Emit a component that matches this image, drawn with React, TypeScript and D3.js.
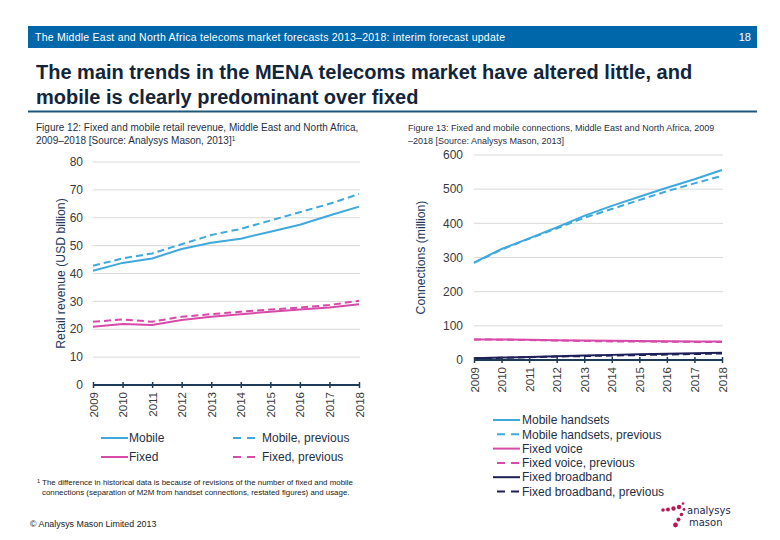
import { useEffect, useRef } from 'react';
import * as d3 from 'd3';

const years = ['2009', '2010', '2011', '2012', '2013', '2014', '2015', '2016', '2017', '2018'];

// Figure 12: retail revenue, USD billion
const mobileRevenue = [41, 43.8, 45.4, 48.8, 51, 52.5, 55, 57.5, 60.8, 64];
const mobileRevenuePrev = [42.8, 45.4, 47.2, 50.5, 53.8, 56, 59, 62, 65, 68.5];
const fixedRevenue = [20.9, 21.9, 21.5, 23.3, 24.5, 25.4, 26.3, 27.1, 27.8, 29];
const fixedRevenuePrev = [22.7, 23.5, 22.7, 24.5, 25.4, 26.3, 27.1, 27.8, 28.7, 30.2];
const revenueTicks = [0, 10, 20, 30, 40, 50, 60, 70, 80];

// Figure 13: connections, million
const mobileHandsets = [285, 325, 356, 388, 422, 451, 478, 504, 529, 556];
const mobileHandsetsPrev = [284, 323, 355, 385, 416, 442, 468, 494, 517, 539];
const fixedVoice = [60, 60, 59, 58, 57, 56, 55.5, 55, 54.5, 54];
const fixedVoicePrev = [60, 59.5, 58.5, 57, 55.5, 54.5, 54, 53.5, 53, 52.5];
const fixedBroadband = [5, 7, 9, 11, 13, 15, 16.5, 18, 20, 21.5];
const fixedBroadbandPrev = [5, 6.5, 8, 10, 11.5, 13, 14.5, 16, 17.5, 19];
const connectionTicks = [0, 100, 200, 300, 400, 500, 600];

const BLUE = '#3fa9dd';
const PINK = '#d84aa9';
const NAVY = '#1e1e58';
const TEXT = '#1f2f45';
const FONT = '"Liberation Sans", Arial, sans-serif';

export default function App() {
  const svgRef = useRef<SVGSVGElement>(null);

  useEffect(() => {
    if (!svgRef.current) return;
    const svg = d3.select(svgRef.current);
    svg.selectAll('*').remove();
    svg.attr('font-family', FONT);

    // header bar
    svg.append('rect').attr('x', 28).attr('y', 26).attr('width', 729).attr('height', 22).attr('fill', '#0067ab');
    svg.append('text').attr('x', 35).attr('y', 41).attr('fill', '#fff').attr('font-size', 10.5)
      .attr('textLength', 470).attr('lengthAdjust', 'spacing')
      .text('The Middle East and North Africa telecoms market forecasts 2013–2018: interim forecast update');
    svg.append('text').attr('x', 751).attr('y', 41).attr('fill', '#fff').attr('font-size', 11)
      .attr('text-anchor', 'end').text('18');

    // title
    const title = svg.append('text').attr('fill', '#13253a').attr('font-size', 20).attr('font-weight', 'bold');
    title.append('tspan').attr('x', 36).attr('y', 79)
      .text('The main trends in the MENA telecoms market have altered little, and');
    title.append('tspan').attr('x', 36).attr('y', 104).text('mobile is clearly predominant over fixed');
    svg.append('line').attr('x1', 28).attr('x2', 757).attr('y1', 111.5).attr('y2', 111.5)
      .attr('stroke', '#1d5878').attr('stroke-width', 2);

    // captions
    const cap1 = svg.append('text').attr('fill', TEXT).attr('font-size', 10);
    cap1.append('tspan').attr('x', 36).attr('y', 131)
      .text('Figure 12: Fixed and mobile retail revenue, Middle East and North Africa,');
    const c1l2 = cap1.append('tspan').attr('x', 36).attr('y', 144);
    c1l2.append('tspan').text('2009–2018 [Source: Analysys Mason, 2013]');
    c1l2.append('tspan').attr('font-size', 6.5).attr('dy', -3.5).text('1');

    const cap2 = svg.append('text').attr('fill', TEXT).attr('font-size', 9);
    cap2.append('tspan').attr('x', 408).attr('y', 131)
      .text('Figure 13: Fixed and mobile connections, Middle East and North Africa, 2009');
    cap2.append('tspan').attr('x', 408).attr('y', 144).text('–2018 [Source: Analysys Mason, 2013]');

    type Series = { values: number[]; color: string; dashed: boolean };

    const drawChart = (
      x0: number, x1: number, yBottom: number, yTop: number,
      ticks: number[], series: Series[], yLabel: string, labelX: number, labelX2: number
    ) => {
      const x = d3.scalePoint<string>().domain(years).range([x0, x1]);
      const y = d3.scaleLinear().domain([0, ticks[ticks.length - 1]]).range([yBottom, yTop]);
      const g = svg.append('g');

      g.append('g').selectAll('line').data(ticks.slice(1)).join('line')
        .attr('x1', x0).attr('x2', x1 + 1)
        .attr('y1', (d) => y(d)).attr('y2', (d) => y(d))
        .attr('stroke', '#d9d9d9').attr('stroke-width', 1);

      g.append('g').selectAll('text').data(ticks).join('text')
        .attr('x', labelX).attr('y', (d) => y(d)).attr('dy', '0.35em')
        .attr('text-anchor', 'end').attr('font-size', 12).attr('fill', '#3a3a3a')
        .text((d) => d);

      const line = d3.line<number>().x((_, i) => x(years[i]) as number).y((d) => y(d));
      series.forEach((s) => {
        g.append('path').datum(s.values)
          .attr('fill', 'none').attr('stroke', s.color).attr('stroke-width', 2)
          .attr('stroke-dasharray', s.dashed ? '7,4' : null)
          .attr('d', line);
      });

      const axis = g.append('g').attr('transform', `translate(0,${yBottom})`)
        .call(d3.axisBottom(x).tickSize(0).tickPadding(0));
      axis.select('.domain').remove();
      axis.selectAll('text').remove();
      axis.append('line').attr('x1', x0).attr('x2', x1).attr('stroke', '#1d3a58').attr('stroke-width', 2);
      axis.selectAll('.tick').append('line').attr('y1', -3).attr('y2', 3)
        .attr('stroke', '#1d3a58').attr('stroke-width', 1.5);
      axis.selectAll('.tick').append('text')
        .attr('transform', 'translate(0,7) rotate(-90)')
        .attr('text-anchor', 'end').attr('dy', '0.35em')
        .attr('font-size', 11.5).attr('fill', '#3a3a3a').attr('font-family', FONT)
        .text((d) => d as string);

      g.append('text')
        .attr('transform', `translate(${labelX2},${(yBottom + yTop) / 2}) rotate(-90)`)
        .attr('text-anchor', 'middle').attr('dy', '0.35em')
        .attr('font-size', 12.2).attr('fill', '#1d3a5c').text(yLabel);
    };

    drawChart(93, 359, 385, 162, revenueTicks, [
      { values: mobileRevenuePrev, color: BLUE, dashed: true },
      { values: mobileRevenue, color: BLUE, dashed: false },
      { values: fixedRevenuePrev, color: PINK, dashed: true },
      { values: fixedRevenue, color: PINK, dashed: false },
    ], 'Retail revenue (USD billion)', 83, 61);

    drawChart(474, 722, 360, 155, connectionTicks, [
      { values: mobileHandsetsPrev, color: BLUE, dashed: true },
      { values: mobileHandsets, color: BLUE, dashed: false },
      { values: fixedVoicePrev, color: PINK, dashed: true },
      { values: fixedVoice, color: PINK, dashed: false },
      { values: fixedBroadbandPrev, color: NAVY, dashed: true },
      { values: fixedBroadband, color: NAVY, dashed: false },
    ], 'Connections (million)', 463, 421);

    // legends
    const legendItem = (lx: number, ly: number, color: string, dashed: boolean, label: string, tx: number) => {
      if (dashed) {
        svg.append('line').attr('x1', lx + 4).attr('x2', lx + 28).attr('y1', ly).attr('y2', ly)
          .attr('stroke', color).attr('stroke-width', 2).attr('stroke-dasharray', '8,6');
      } else {
        svg.append('line').attr('x1', lx).attr('x2', lx + 27).attr('y1', ly).attr('y2', ly)
          .attr('stroke', color).attr('stroke-width', 2);
      }
      svg.append('text').attr('x', tx).attr('y', ly).attr('dy', '0.35em')
        .attr('font-size', 12).attr('fill', TEXT).text(label);
    };

    legendItem(101, 438, BLUE, false, 'Mobile', 129);
    legendItem(229, 438, BLUE, true, 'Mobile, previous', 262);
    legendItem(101, 457, PINK, false, 'Fixed', 129);
    legendItem(229, 457, PINK, true, 'Fixed, previous', 262);

    const rightLegend: [string, boolean, string][] = [
      [BLUE, false, 'Mobile handsets'],
      [BLUE, true, 'Mobile handsets, previous'],
      [PINK, false, 'Fixed voice'],
      [PINK, true, 'Fixed voice, previous'],
      [NAVY, false, 'Fixed broadband'],
      [NAVY, true, 'Fixed broadband, previous'],
    ];
    rightLegend.forEach(([c, d, l], i) => legendItem(493, 420 + i * 14.3, c, d, l, 522));

    // footnote
    const note = svg.append('text').attr('fill', '#222').attr('font-size', 7.9);
    const n1 = note.append('tspan').attr('x', 37).attr('y', 485);
    n1.append('tspan').attr('font-size', 5.5).attr('dy', -2).text('1');
    n1.append('tspan').attr('dy', 2).text(' The difference in historical data is because of revisions of the number of fixed and mobile');
    note.append('tspan').attr('x', 42).attr('y', 495)
      .text('connections (separation of M2M from handset connections, restated figures) and usage.');

    svg.append('text').attr('x', 30).attr('y', 527).attr('font-size', 8.9).attr('fill', '#222')
      .text('© Analysys Mason Limited 2013');

    // logo
    const logo = svg.append('g');
    const dots: [number, number, number][] = [
      [663, 510, 1.8], [668, 509.5, 2], [673.5, 508.5, 2.2], [679, 507, 2.2], [683, 503.5, 1.3],
      [684, 509.5, 1.4], [681.5, 514.5, 1.8], [678.5, 519.5, 2], [675.5, 525, 2.4],
    ];
    logo.selectAll('circle').data(dots).join('circle')
      .attr('cx', (d) => d[0]).attr('cy', (d) => d[1]).attr('r', (d) => d[2]).attr('fill', '#b51a55');
    logo.append('text').attr('x', 687).attr('y', 514).attr('font-size', 10).attr('fill', '#1d2a4c')
      .attr('font-family', '"DejaVu Sans", sans-serif').text('analysys');
    logo.append('text').attr('x', 689).attr('y', 526).attr('font-size', 10).attr('fill', '#1d2a4c')
      .attr('font-family', '"DejaVu Sans", sans-serif').text('mason');
  }, []);

  return (
    <svg
      ref={svgRef}
      width={780}
      height={540}
      style={{ position: 'absolute', left: 0, top: 0, background: '#fff' }}
    />
  );
}
